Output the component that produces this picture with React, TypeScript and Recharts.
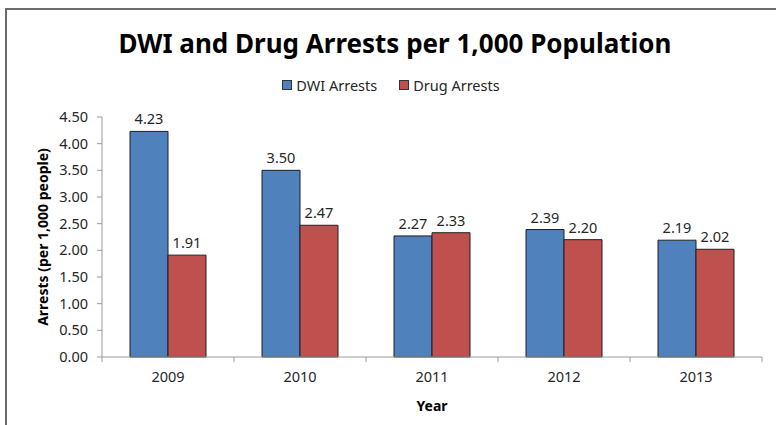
import React from 'react';
import { BarChart, Bar, XAxis, YAxis, LabelList, Legend, Label } from 'recharts';

const years = ['2009', '2010', '2011', '2012', '2013'];
const dwiArrests = [4.23, 3.5, 2.27, 2.39, 2.19];
const drugArrests = [1.91, 2.47, 2.33, 2.2, 2.02];
const yTicks = [0, 0.5, 1, 1.5, 2, 2.5, 3, 3.5, 4, 4.5];

const series = [
  { key: 'dwi', name: 'DWI Arrests', color: '#4F81BD' },
  { key: 'drug', name: 'Drug Arrests', color: '#C0504D' },
];

const data = years.map((year, i) => ({
  year,
  dwi: dwiArrests[i],
  drug: drugArrests[i],
}));

const FONT = "'Noto Sans', 'Open Sans', sans-serif";
const TEXT = '#262626';
const AXIS = '#9a9a9a';
const W = 776;
const H = 425;
const MARGIN = { top: 97, right: 14, left: 0, bottom: 0 };
const Y_AXIS_W = 102;
const X_AXIS_H = 68;
const TICK_SIZE = 5;
const TICK_MARGIN = 8;
const PLOT_W = W - MARGIN.left - MARGIN.right - Y_AXIS_W;
const HALF_BAND = PLOT_W / years.length / 2;

// category ticks sit between the bands, like Excel
const YearTick = (props: any) => {
  const { x, y, payload, index } = props;
  const axisY = y - TICK_SIZE - TICK_MARGIN;
  const isLast = index === years.length - 1;
  return (
    <g>
      <line x1={x - HALF_BAND} x2={x - HALF_BAND} y1={axisY} y2={axisY + TICK_SIZE} stroke={AXIS} />
      {isLast && (
        <line x1={x + HALF_BAND} x2={x + HALF_BAND} y1={axisY} y2={axisY + TICK_SIZE} stroke={AXIS} />
      )}
      <text x={x} y={y} dy={12} textAnchor="middle" fill={TEXT} fontSize={14.5} fontFamily={FONT}>
        {payload.value}
      </text>
    </g>
  );
};

const LegendContent = () => (
  <div style={{ display: 'flex', justifyContent: 'center', gap: 22, fontFamily: FONT, fontSize: 14.5, color: TEXT, height: 20, alignItems: 'center' }}>
    {series.map((s) => (
      <div key={s.key} style={{ display: 'flex', alignItems: 'center', gap: 4 }}>
        <span style={{ width: 8, height: 8, background: s.color, border: '1px solid #333', display: 'inline-block' }} />
        <span>{s.name}</span>
      </div>
    ))}
  </div>
);

export default function App() {
  return (
    <div style={{ position: 'absolute', left: 0, top: 0, width: W, height: H, overflow: 'hidden', background: '#fff' }}>
      <div
        style={{
          position: 'absolute',
          left: 5,
          top: 8,
          width: 900,
          height: 600,
          borderLeft: '2px solid #6b6b6b',
          borderTop: '2px solid #6b6b6b',
        }}
      />
      <div
        style={{
          position: 'absolute',
          left: 0,
          width: 790,
          top: 25,
          textAlign: 'center',
          fontFamily: FONT,
          fontWeight: 700,
          fontSize: 26,
          color: '#000',
        }}
      >
        DWI and Drug Arrests per 1,000 Population
      </div>
      <div style={{ position: 'absolute', left: 0, top: 0 }}>
        <BarChart width={W} height={H} data={data} margin={MARGIN} barGap={0} barSize={38}>
          <Legend verticalAlign="top" content={<LegendContent />} wrapperStyle={{ top: 75, left: 10 }} />
          <YAxis
            width={Y_AXIS_W}
            domain={[0, 4.5]}
            ticks={yTicks}
            interval={0}
            tickFormatter={(v: number) => v.toFixed(2)}
            tick={{ fill: TEXT, fontSize: 14.5, fontFamily: FONT }}
            tickSize={5}
            tickMargin={9}
            stroke={AXIS}
          >
            <Label
              value="Arrests (per 1,000 people)"
              angle={-90}
              position="insideLeft"
              offset={43}
              style={{ textAnchor: 'middle', fontWeight: 700, fontSize: 14, fontFamily: FONT, fill: '#000' }}
            />
          </YAxis>
          <XAxis
            dataKey="year"
            height={X_AXIS_H}
            tickLine={false}
            tickSize={TICK_SIZE}
            tickMargin={TICK_MARGIN}
            tick={<YearTick />}
            interval={0}
            stroke={AXIS}
          >
            <Label
              value="Year"
              position="insideBottom"
              offset={14}
              style={{ fontWeight: 700, fontSize: 14, fontFamily: FONT, fill: '#000' }}
            />
          </XAxis>
          {series.map((s) => (
            <Bar key={s.key} dataKey={s.key} name={s.name} fill={s.color} stroke="#1f1f1f" strokeWidth={1} isAnimationActive={false}>
              <LabelList
                dataKey={s.key}
                position="top"
                offset={7}
                formatter={(v: any) => Number(v).toFixed(2)}
                style={{ fill: TEXT, fontSize: 14.5, fontFamily: FONT }}
              />
            </Bar>
          ))}
        </BarChart>
      </div>
    </div>
  );
}
